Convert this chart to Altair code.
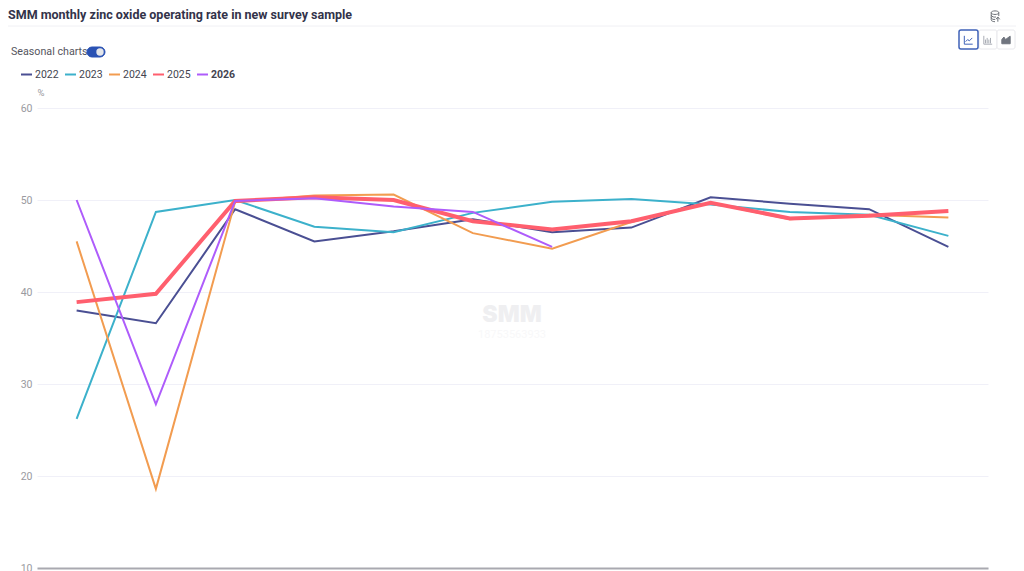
import altair as alt
import pandas as pd

months = ["Jan","Feb","Mar","Apr","May","Jun","Jul","Aug","Sep","Oct","Nov","Dec"]
y2022 = [38.0,36.6,49.0,45.5,46.6,47.9,46.5,47.0,50.3,49.6,49.0,44.9]
y2023 = [26.2,48.7,50.0,47.1,46.5,48.6,49.8,50.1,49.5,48.7,48.4,46.1]
y2024 = [45.5,18.6,49.8,50.5,50.6,46.4,44.7,47.6,49.7,47.9,48.4,48.1]
y2025 = [38.9,39.8,49.9,50.3,50.0,47.7,46.8,47.7,49.7,48.0,48.3,48.8]
y2026 = [50.0,27.8,49.9,50.2,49.3,48.7,44.9]
series = {"2022":y2022,"2023":y2023,"2024":y2024,"2025":y2025,"2026":y2026}
colors = ["#4a4f93","#3cb1cb","#f29c50","#ff5f6e","#ae5cfb"]
FONT = "Roboto"
rows = [{"month":months[i],"year":k,"rate":v} for k,vals in series.items() for i,v in enumerate(vals)]

OX, OY = 37, 108
one = alt.Data(values=[{"a":0}])

def text(s, x, y, size=11, color="#555", weight="normal", align="left", style="normal", font=FONT):
    return alt.Chart(one).mark_text(text=s, font=font, fontSize=size, color=color, fontWeight=weight,
        align=align, baseline="middle", fontStyle=style, clip=False).encode(
        x=alt.value(x-OX), y=alt.value(y-OY))

def box(x0,y0,x1,y1,fill="transparent",stroke="#e6e6ea",radius=2,sw=1):
    return alt.Chart(one).mark_rect(fill=fill, stroke=stroke, strokeWidth=sw, cornerRadius=radius).encode(
        x=alt.value(x0-OX), x2=alt.value(x1-OX), y=alt.value(y0-OY), y2=alt.value(y1-OY))

def glyph(path, x, y, size, color, filled=False, sw=1):
    return alt.Chart(one).mark_point(shape=path, size=size, filled=filled, stroke=color,
        fill=color if filled else "transparent", strokeWidth=sw, opacity=1).encode(
        x=alt.value(x-OX), y=alt.value(y-OY))

base = alt.Chart(alt.Data(values=rows))
lines = base.mark_line(interpolate="linear", strokeJoin="miter").encode(
    x=alt.X("month:N", sort=months, scale=alt.Scale(domain=months, paddingInner=1, paddingOuter=0.5),
            axis=alt.Axis(labels=False, ticks=False, title=None, domainColor="#a9a9b0", domainWidth=2, grid=False)),
    y=alt.Y("rate:Q", scale=alt.Scale(domain=[10,60], nice=False),
            axis=alt.Axis(values=[10,20,30,40,50,60], title=None, domain=False, ticks=False,
                          gridColor="#f0f0f8", gridWidth=1, labelColor="#9a9aa0", labelFont=FONT,
                          labelFontSize=10.5, labelPadding=5)),
    color=alt.Color("year:N", scale=alt.Scale(domain=list(series), range=colors),
        legend=alt.Legend(title=None, orient="none", legendX=21-OX-1, legendY=68-OY, direction="horizontal",
            symbolType="stroke", symbolSize=121, symbolStrokeWidth=2, labelFont=FONT, labelFontSize=10.5,
            labelColor="#444450", columnPadding=2, labelOffset=2,
            labelFontWeight={"expr":"datum.label=='2026' ? 'bold' : 'normal'"})),
    strokeWidth=alt.condition("datum.year=='2025'", alt.value(4), alt.value(2)),
)

line_icon = "M-1 -1L-1 1L1 1M-0.7 0.4L-0.2 -0.1L0.2 0.2L0.9 -0.5"
bar_icon = "M-1 -1L-1 1L1 1M-0.6 0.8L-0.6 -0.1M-0.2 0.8L-0.2 -0.5M0.2 0.8L0.2 -0.1M0.6 0.8L0.6 -0.5"
area_icon = "M-1 0.9L-1 -0.1L-0.5 -0.7L-0.1 -0.1L0.4 -0.5L1 -0.9L1 0.9Z"
db_icon = "M-0.8 -0.7C-0.8 -1.2 0.8 -1.2 0.8 -0.7C0.8 -0.2 -0.8 -0.2 -0.8 -0.7L-0.8 0.8C-0.8 1.1 -0.3 1.2 0 1.2M-0.8 -0.2C-0.8 0.2 0 0.3 0.2 0.2M-0.8 0.3C-0.8 0.7 -0.2 0.8 0 0.7M0.8 -0.7L0.8 0M0.6 1.2L0.6 0.3M0.2 0.7L0.6 0.2L1 0.7"

deco = [
    alt.Chart(one).mark_rule(color="#f0f0f4", strokeWidth=1).encode(
        x=alt.value(8-OX), x2=alt.value(1016-OX), y=alt.value(26-OY)),
    text("SMM monthly zinc oxide operating rate in new survey sample", 8, 15, size=12.5, color="#33334a", weight="bold"),
    text("Seasonal charts", 11, 52, size=10.7, color="#555560"),
    box(87,47,105,57,fill="#2a52b4",stroke="#2a52b4",radius=5),
    alt.Chart(one).mark_point(filled=True, size=55, color="#e4e6ea", opacity=1).encode(x=alt.value(100-OX), y=alt.value(52-OY)),
    text("%", 41, 93, size=9.5, color="#9a9aa0", align="center"),
    text("SMM", 512, 315, size=23, color="#efeff1", weight=900, align="center", font="Inter"),
    text("18753563933", 512, 335, size=11, color="#f8f8f9", align="center"),
    box(979,30,997,49,fill="#ffffff",stroke="#e8e8ec"),
    box(997,30,1015,49,fill="#ffffff",stroke="#e8e8ec"),
    box(959,30,978,49,fill="#ffffff",stroke="#3f62b8",sw=1.5),
    glyph(line_icon, 968.5, 40, 70, "#3f62b8"),
    glyph(bar_icon, 988, 40, 70, "#a9adb5"),
    glyph(area_icon, 1006, 40, 70, "#70757f", filled=True),
    glyph(db_icon, 995, 16, 90, "#6d7178"),
]

chart = alt.layer(*deco, lines).properties(
    width=951, height=460,
    padding={"left":29,"top":100,"right":28,"bottom":3},
    autosize=alt.AutoSizeParams(type="none", contains="content"),
).configure_view(stroke=None).configure_point(opacity=1)

chart.save("out.html", embed_options={"renderer":"svg","actions":False})
